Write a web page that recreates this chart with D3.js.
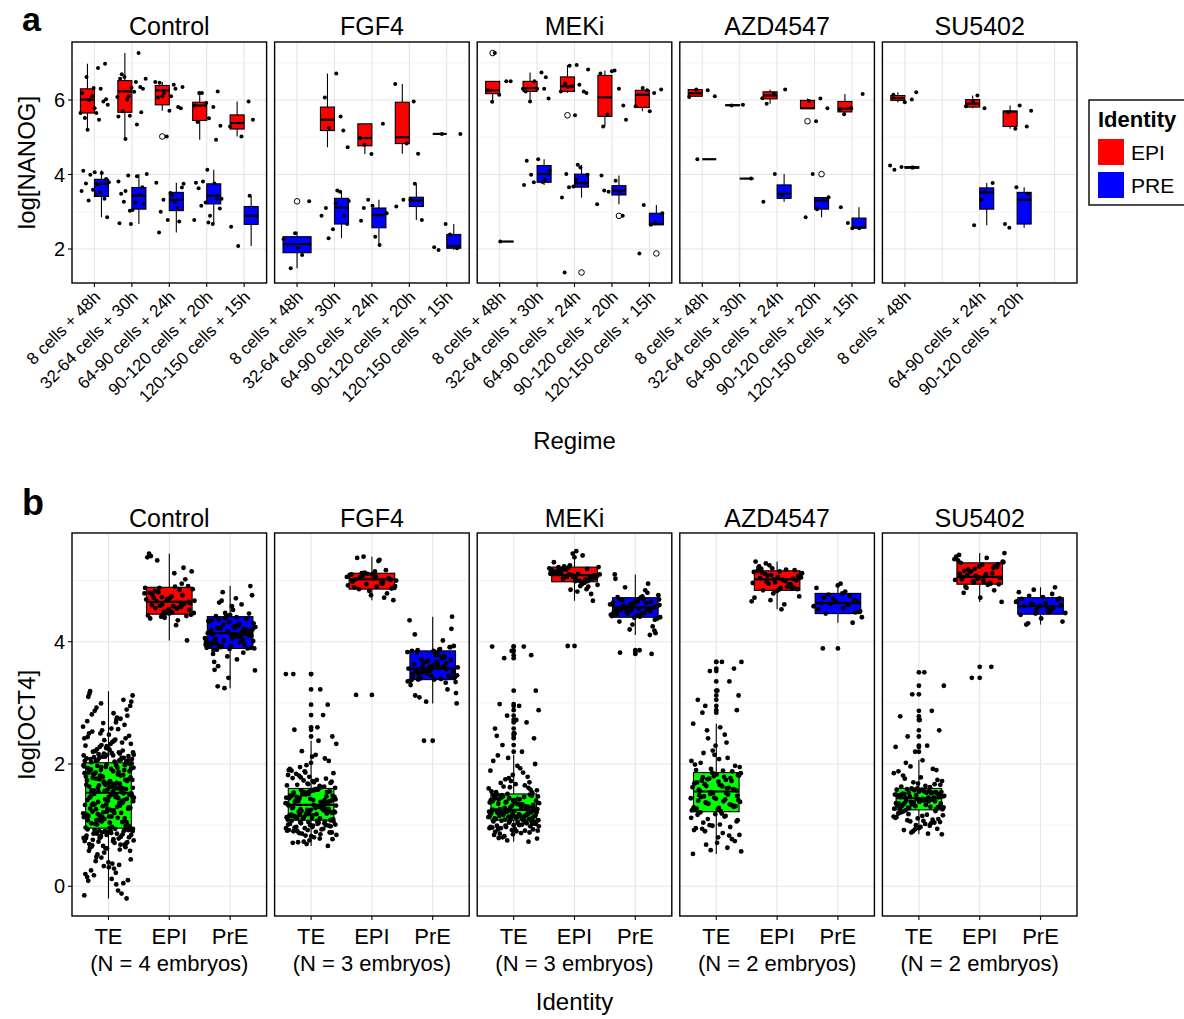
<!DOCTYPE html>
<html>
<head>
<meta charset="utf-8">
<script src="https://cdn.jsdelivr.net/npm/d3@7"></script>
<style>
  body { margin: 0; background: #fff; }
  svg { display: block; }
  text { font-family: "Liberation Sans", Arial, Helvetica, sans-serif; fill: #000; }
</style>
</head>
<body>
<svg id="chart" width="1184" height="1019"></svg>
<script>
// ---------- categories ----------
const treatments = ["Control", "FGF4", "MEKi", "AZD4547", "SU5402"];
const regimes = ["8 cells + 48h", "32-64 cells + 30h", "64-90 cells + 24h", "90-120 cells + 20h", "120-150 cells + 15h"];
const nanogIdentities = ["EPI", "PRE"];
const oct4Identities = ["TE", "EPI", "PrE"];
const embryoCounts = [4, 3, 3, 2, 2];
const nanogTicks = [2, 4, 6];
const nanogMinor = [3, 5, 7];
const oct4Ticks = [0, 2, 4];
const oct4Minor = [1, 3, 5];

// ---------- panel a: NANOG per regime ----------
// [treatment, regime index, identity, lower whisker, q1, median, q3, upper whisker]
const nanogBoxes = [
  ["Control", 0, "EPI", 5.20, 5.65, 6.01, 6.30, 6.97],
  ["Control", 0, "PRE", 2.85, 3.41, 3.75, 3.87, 4.11],
  ["Control", 1, "EPI", 4.95, 5.67, 6.23, 6.52, 7.26],
  ["Control", 1, "PRE", 2.67, 3.07, 3.43, 3.65, 4.01],
  ["Control", 2, "EPI", 5.71, 5.87, 6.26, 6.39, 6.48],
  ["Control", 2, "PRE", 2.44, 3.03, 3.32, 3.52, 3.78],
  ["Control", 3, "EPI", 4.93, 5.45, 5.85, 5.94, 6.23],
  ["Control", 3, "PRE", 2.67, 3.21, 3.43, 3.75, 4.13],
  ["Control", 4, "EPI", 5.02, 5.22, 5.38, 5.60, 5.96],
  ["Control", 4, "PRE", 2.08, 2.66, 2.89, 3.14, 3.43],
  ["FGF4", 0, "PRE", 1.48, 1.90, 2.13, 2.33, 2.47],
  ["FGF4", 1, "EPI", 4.73, 5.18, 5.47, 5.81, 6.71],
  ["FGF4", 1, "PRE", 2.29, 2.67, 3.11, 3.36, 3.57],
  ["FGF4", 2, "EPI", 4.55, 4.77, 4.98, 5.36, 5.36],
  ["FGF4", 2, "PRE", 2.11, 2.57, 2.91, 3.10, 3.32],
  ["FGF4", 3, "EPI", 4.56, 4.83, 5.00, 5.94, 6.43],
  ["FGF4", 3, "PRE", 2.78, 3.14, 3.30, 3.39, 3.75],
  ["FGF4", 4, "EPI", 5.09, 5.09, 5.09, 5.09, 5.09],
  ["FGF4", 4, "PRE", 1.97, 2.02, 2.08, 2.39, 2.67],
  ["MEKi", 0, "EPI", 5.95, 6.17, 6.26, 6.50, 6.50],
  ["MEKi", 0, "PRE", 2.20, 2.20, 2.20, 2.20, 2.20],
  ["MEKi", 1, "EPI", 5.96, 6.23, 6.32, 6.50, 6.74],
  ["MEKi", 1, "PRE", 3.72, 3.79, 4.01, 4.24, 4.41],
  ["MEKi", 2, "EPI", 6.19, 6.23, 6.37, 6.62, 6.94],
  ["MEKi", 2, "PRE", 3.38, 3.66, 3.77, 4.01, 4.26],
  ["MEKi", 3, "EPI", 5.29, 5.56, 6.07, 6.66, 6.79],
  ["MEKi", 3, "PRE", 3.20, 3.45, 3.57, 3.70, 3.97],
  ["MEKi", 4, "EPI", 5.70, 5.80, 6.14, 6.26, 6.32],
  ["MEKi", 4, "PRE", 2.65, 2.65, 2.67, 2.96, 3.18],
  ["AZD4547", 0, "EPI", 6.08, 6.10, 6.18, 6.28, 6.28],
  ["AZD4547", 0, "PRE", 4.41, 4.41, 4.41, 4.41, 4.41],
  ["AZD4547", 1, "EPI", 5.85, 5.85, 5.86, 5.87, 5.87],
  ["AZD4547", 1, "PRE", 3.89, 3.89, 3.89, 3.89, 3.89],
  ["AZD4547", 2, "EPI", 5.90, 6.03, 6.12, 6.22, 6.28],
  ["AZD4547", 2, "PRE", 3.27, 3.36, 3.48, 3.72, 4.01],
  ["AZD4547", 3, "EPI", 5.77, 5.77, 5.78, 5.99, 6.04],
  ["AZD4547", 3, "PRE", 2.85, 3.07, 3.30, 3.38, 3.39],
  ["AZD4547", 4, "EPI", 5.62, 5.68, 5.77, 5.96, 6.16],
  ["AZD4547", 4, "PRE", 2.56, 2.56, 2.58, 2.83, 3.12],
  ["SU5402", 0, "EPI", 5.94, 5.99, 6.05, 6.12, 6.21],
  ["SU5402", 0, "PRE", 4.13, 4.17, 4.19, 4.21, 4.24],
  ["SU5402", 2, "EPI", 5.78, 5.81, 5.90, 6.01, 6.12],
  ["SU5402", 2, "PRE", 2.64, 3.07, 3.52, 3.64, 3.77],
  ["SU5402", 3, "EPI", 5.23, 5.29, 5.69, 5.70, 5.85],
  ["SU5402", 3, "PRE", 2.57, 2.67, 3.32, 3.52, 3.66]
];

// [treatment, regime index, identity, per-embryo log NANOG values]
const nanogValues = [
  ["Control", 0, "EPI", [6.86, 6.62, 6.97, 6.32, 6.19, 6.30, 6.00, 5.87, 5.65, 5.52, 5.96, 6.10, 5.65, 5.47, 5.20, 6.02, 5.78]],
  ["Control", 0, "PRE", [3.88, 4.06, 4.10, 4.04, 3.99, 3.79, 3.74, 3.76, 3.35, 3.59, 3.56, 3.52, 3.30, 2.85, 3.45]],
  ["Control", 1, "EPI", [6.69, 6.35, 6.10, 6.08, 6.48, 6.62, 6.30, 6.33, 6.57, 7.26, 6.01, 6.57, 6.22, 5.70, 5.67, 5.58, 5.56, 5.34, 4.95]],
  ["Control", 1, "PRE", [3.03, 3.81, 3.95, 3.56, 3.21, 3.05, 3.48, 3.45, 3.97, 4.01, 3.24, 3.27, 3.66, 2.67, 2.69]],
  ["Control", 2, "EPI", [6.30, 6.19, 6.35, 6.10, 6.46, 5.81, 5.02, 6.48, 6.41, 6.10, 5.78, 5.71, 6.07]],
  ["Control", 2, "PRE", [3.75, 3.44, 3.00, 2.74, 2.78, 3.78, 3.27, 3.32, 3.65, 3.50, 2.44, 3.10]],
  ["Control", 3, "EPI", [6.19, 6.23, 5.92, 5.85, 5.81, 6.19, 5.31, 5.51, 5.41, 4.93]],
  ["Control", 3, "PRE", [4.13, 3.78, 3.76, 3.81, 3.35, 2.89, 3.63, 3.34, 3.25, 2.78, 2.67, 3.16, 3.09, 2.71]],
  ["Control", 4, "EPI", [5.47, 5.02, 5.29, 5.96]],
  ["Control", 4, "PRE", [2.60, 3.43, 2.08, 2.89]],
  ["FGF4", 0, "PRE", [2.42, 2.26, 1.84, 1.48, 3.28, 2.02]],
  ["FGF4", 1, "EPI", [5.56, 5.25, 4.73, 6.71, 6.07, 5.18]],
  ["FGF4", 1, "PRE", [3.29, 3.57, 3.10, 2.89, 2.53, 2.89, 3.54, 2.29, 2.67, 3.23]],
  ["FGF4", 2, "EPI", [4.80, 5.36, 4.55, 4.98]],
  ["FGF4", 2, "PRE", [3.16, 2.76, 2.11, 3.32, 2.96, 2.33, 3.10]],
  ["FGF4", 3, "EPI", [4.56, 4.83, 6.43, 5.96]],
  ["FGF4", 3, "PRE", [3.14, 3.75, 3.32, 2.78, 3.32]],
  ["FGF4", 4, "EPI", [5.09, 5.09]],
  ["FGF4", 4, "PRE", [2.39, 1.97, 2.02, 2.67, 2.05]],
  ["MEKi", 0, "EPI", [5.95, 6.50, 6.14, 6.26, 6.50, 7.26]],
  ["MEKi", 0, "PRE", [2.20]],
  ["MEKi", 1, "EPI", [6.61, 6.50, 6.30, 6.74, 5.96, 6.04, 6.30, 6.23, 6.30]],
  ["MEKi", 1, "PRE", [3.72, 3.80, 3.99, 4.11, 4.41, 4.37, 3.86, 3.79]],
  ["MEKi", 2, "EPI", [6.92, 6.82, 6.94, 6.44, 6.23, 6.37, 6.23, 6.41, 6.35, 6.19, 5.59]],
  ["MEKi", 2, "PRE", [4.26, 4.01, 3.77, 3.68, 3.38, 4.19, 3.66, 3.99, 3.86, 1.37]],
  ["MEKi", 3, "EPI", [5.85, 6.77, 6.71, 6.30, 5.61, 5.47, 6.79, 5.29]],
  ["MEKi", 3, "PRE", [3.97, 3.54, 3.54, 3.20, 3.83, 3.57, 2.89]],
  ["MEKi", 4, "EPI", [6.26, 5.83, 6.19, 6.32, 6.28, 5.70]],
  ["MEKi", 4, "PRE", [2.69, 3.18, 2.96, 2.65, 1.88]],
  ["AZD4547", 0, "EPI", [6.08, 6.26, 6.28, 6.10]],
  ["AZD4547", 0, "PRE", [4.41]],
  ["AZD4547", 1, "EPI", [5.87, 5.85]],
  ["AZD4547", 1, "PRE", [3.89]],
  ["AZD4547", 2, "EPI", [5.90, 6.28, 6.17, 6.05]],
  ["AZD4547", 2, "PRE", [4.01, 3.27, 3.45]],
  ["AZD4547", 3, "EPI", [6.04, 5.97, 5.78, 5.43]],
  ["AZD4547", 3, "PRE", [3.39, 3.07, 2.85, 3.31, 4.01]],
  ["AZD4547", 4, "EPI", [5.62, 6.16, 5.78, 5.74]],
  ["AZD4547", 4, "PRE", [2.56, 3.12, 2.56, 2.70]],
  ["SU5402", 0, "EPI", [6.21, 5.94, 6.14, 6.01]],
  ["SU5402", 0, "PRE", [4.13, 4.19, 4.20, 4.24]],
  ["SU5402", 2, "EPI", [6.12, 5.83, 5.78, 5.95]],
  ["SU5402", 2, "PRE", [3.52, 2.64, 3.77, 3.32]],
  ["SU5402", 3, "EPI", [5.71, 5.85, 5.67, 5.29, 5.23]],
  ["SU5402", 3, "PRE", [2.57, 3.48, 3.66, 2.67]]
];

// ---------- panel b: OCT4 per lineage ----------
// [treatment, identity, lower whisker, q1, median, q3, upper whisker]
const oct4Boxes = [
  ["Control", "TE", -0.20, 0.95, 1.53, 2.02, 3.19],
  ["Control", "EPI", 4.02, 4.45, 4.65, 4.89, 5.44],
  ["Control", "PrE", 3.24, 3.89, 4.14, 4.41, 4.91],
  ["FGF4", "TE", 0.66, 1.08, 1.33, 1.60, 2.38],
  ["FGF4", "EPI", 4.68, 4.86, 5.02, 5.12, 5.39],
  ["FGF4", "PrE", 2.99, 3.38, 3.56, 3.85, 4.41],
  ["MEKi", "TE", 0.73, 1.08, 1.25, 1.51, 2.15],
  ["MEKi", "EPI", 4.67, 4.98, 5.09, 5.22, 5.48],
  ["MEKi", "PrE", 4.11, 4.40, 4.56, 4.72, 5.10],
  ["AZD4547", "TE", 0.53, 1.22, 1.55, 1.86, 2.66],
  ["AZD4547", "EPI", 4.53, 4.84, 5.02, 5.16, 5.31],
  ["AZD4547", "PrE", 4.31, 4.46, 4.63, 4.79, 4.95],
  ["SU5402", "TE", 0.85, 1.25, 1.44, 1.60, 2.07],
  ["SU5402", "EPI", 4.65, 4.94, 5.06, 5.29, 5.45],
  ["SU5402", "PrE", 4.28, 4.45, 4.58, 4.72, 4.89]
];

const oct4ControlTE = [0.71, 0.88, -0.20, 0.62, 0.93, 0.35, 0.79, 0.84, 0.12, 0.67, 0.90, 0.55, 0.74, 0.03, 0.86, 0.92, 0.31, 0.69, 0.81, 0.47, 0.94, 0.77, 0.18, 0.64, 0.89, 0.83, -0.07, 0.73, 0.58, 0.91, 0.26, 0.85, 0.66, 0.79, 0.94, 0.41, 0.72, 0.87, 0.09, 0.60, 0.82, 0.93, 0.37, 0.76, 0.68, 0.90, 0.20, 0.86, 0.52, 0.80, 0.95, 0.63, -0.12, 0.88, 0.75, 0.29, 0.92, 0.70, 0.84, 0.15, 0.78, 0.91, 0.44, 0.87, 0.65,
  0.05, 0.33, -0.15, 0.22, 0.48, 0.10, 0.39, 0.58, 0.68, 0.81, 0.90, 0.74, 0.86, 0.93, 0.62, 0.79,
  1.12, 1.38, 0.98, 1.25, 1.47, 1.05, 1.31, 1.19, 1.50, 1.02, 1.43, 1.27, 1.08, 1.36, 1.16, 1.52, 0.97, 1.22, 1.41, 1.10, 1.33, 1.48, 1.01, 1.29, 1.14, 1.45, 1.20, 1.06, 1.39, 1.24, 1.51, 0.99, 1.34, 1.17, 1.44, 1.09, 1.28, 1.49, 1.03, 1.37, 1.21, 1.13, 1.46, 1.26, 1.00, 1.40, 1.15, 1.32, 1.07, 1.48, 1.23, 1.35, 1.11, 1.42, 0.96, 1.30, 1.18, 1.50, 1.04, 1.27, 1.39, 1.13, 1.45, 1.20, 1.34,
  1.05, 1.22, 1.41, 1.60, 1.75, 1.92, 1.14, 1.33, 1.52, 1.69, 1.85, 1.98, 1.08, 1.27, 1.46, 1.63, 1.81, 1.95,
  1.61, 1.88, 1.57, 1.74, 1.95, 1.66, 1.83, 1.55, 2.00, 1.70, 1.91, 1.60, 1.79, 1.98, 1.64, 1.86, 1.72, 1.58, 1.93, 1.68, 1.81, 2.01, 1.63, 1.77, 1.90, 1.56, 1.85, 1.69, 1.97, 1.75, 1.62, 1.89, 1.54, 1.80, 1.94, 1.67, 1.84, 1.59, 1.99, 1.73, 1.87, 1.65, 1.78, 1.92, 1.57, 1.82, 1.71, 1.96, 1.60, 1.76, 2.02, 1.69, 1.86, 1.63, 1.90, 1.74, 1.55, 1.83, 1.98, 1.66, 1.79, 1.94, 1.61, 1.88, 1.72,
  2.08, 2.35, 2.12, 2.61, 2.04, 2.21, 2.89, 2.15, 2.44, 2.06, 2.28, 3.02, 2.18, 2.53, 2.10, 2.39, 2.05, 2.72, 2.24, 2.13, 2.48, 3.15, 2.07, 2.31, 2.19, 2.83, 2.11, 2.42, 2.26, 2.09, 2.57, 2.16, 2.95, 2.33, 2.03, 2.22, 2.67, 2.14, 2.40, 2.05, 2.79, 2.27, 3.10, 2.17, 2.50, 2.08, 2.36, 2.20, 2.64, 2.12, 2.30, 2.76, 2.06, 2.46, 2.23, 3.19, 2.10, 2.55, 2.15, 2.38, 2.87, 2.04, 2.29, 2.70, 2.19,
  2.10, 2.33, 2.58, 2.81, 3.05, 2.17, 2.42, 2.68, 2.92, 2.06, 2.25, 2.50, 2.74, 2.99, 3.12, 2.14];
const oct4ControlEPI = [4.52, 4.71, 4.38, 4.95, 4.61, 4.47, 5.12, 4.83, 4.42, 4.68, 5.38, 4.56, 4.88, 4.44, 4.74, 4.60, 5.21, 4.49, 4.79, 4.27, 4.66, 4.91, 4.53, 5.44, 4.64, 4.41, 4.86, 4.58, 4.72, 5.02, 4.46, 4.69, 4.35, 4.81, 4.63, 4.50, 5.40, 4.76, 4.45, 4.67, 4.90, 4.55, 4.02, 4.70, 4.43, 4.85, 4.59, 5.15, 4.48, 4.77, 4.62, 4.39, 4.88, 4.54, 5.33, 4.65, 4.46, 4.80, 4.57, 4.73];
const oct4ControlPrE = [4.12, 3.95, 4.38, 4.05, 3.71, 4.22, 4.46, 3.88, 4.15, 4.61, 3.93, 4.30, 4.08, 3.54, 4.19, 4.41, 3.99, 4.27, 4.64, 3.90, 4.11, 4.35, 3.82, 4.02, 4.24, 4.71, 3.97, 4.17, 3.41, 4.33, 4.07, 3.91, 4.20, 4.52, 3.86, 4.13, 4.39, 4.00, 4.26, 3.60, 4.09, 4.44, 3.94, 4.16, 4.81, 3.89, 4.23, 4.04, 4.37, 3.76, 4.14, 4.29, 3.92, 4.10, 4.58, 3.98, 4.21, 3.24, 4.06, 4.40, 3.87, 4.18, 4.32, 3.96, 4.12, 4.67, 4.01, 4.25, 3.67, 4.15, 4.43, 3.90, 4.08, 4.36, 4.91, 3.93, 4.19, 4.03, 4.28, 3.53, 4.11, 4.42, 3.89, 4.17, 4.34, 3.99, 4.22, 4.76, 4.05, 3.80, 4.14, 4.47, 3.95, 4.26, 3.27];

const oct4FGF4TE = [0.92, 1.01, 0.78, 1.05, 0.88, 0.97, 0.71, 1.03, 0.95, 0.84, 1.07, 0.90, 0.99, 0.75, 1.02, 0.93, 0.86, 1.06, 0.80, 0.96, 1.00, 0.69, 0.91, 1.04, 0.87, 0.98, 0.82, 1.07, 0.94, 0.73, 1.01, 0.89, 0.97, 0.66, 1.05, 0.92, 0.85, 1.03, 0.77, 0.99, 0.90, 1.06, 0.83, 0.95, 1.02, 0.72, 0.88, 1.00,
  1.15, 1.27, 1.10, 1.22, 1.31, 1.13, 1.19, 1.25, 1.09, 1.30, 1.17, 1.21, 1.12, 1.28, 1.24, 1.14, 1.32, 1.18, 1.11, 1.26, 1.20, 1.16, 1.29, 1.23, 1.10, 1.33, 1.15, 1.27, 1.19, 1.13, 1.30, 1.22, 1.08, 1.25, 1.17, 1.31, 1.12, 1.21, 1.28, 1.14, 1.24, 1.18, 1.32, 1.11, 1.26, 1.20, 1.16, 1.29,
  1.41, 1.52, 1.36, 1.58, 1.45, 1.39, 1.55, 1.48, 1.34, 1.50, 1.43, 1.57, 1.38, 1.47, 1.53, 1.35, 1.60, 1.44, 1.40, 1.56, 1.49, 1.37, 1.54, 1.42, 1.59, 1.46, 1.35, 1.51, 1.44, 1.38, 1.57, 1.48, 1.41, 1.53, 1.36, 1.50, 1.45, 1.58, 1.39, 1.55, 1.43, 1.47, 1.34, 1.52, 1.46, 1.59, 1.40, 1.54,
  1.68, 1.82, 1.64, 1.95, 1.71, 2.12, 1.77, 1.63, 1.88, 2.33, 1.74, 1.66, 2.05, 1.79, 1.92, 1.62, 2.21, 1.85, 1.70, 2.56, 1.76, 1.98, 1.65, 2.38, 1.81, 1.69, 2.02, 1.89, 2.80, 1.73, 1.61, 2.15, 1.84, 2.97, 1.67, 1.90, 3.22, 1.78, 2.45, 1.72, 3.47, 2.09, 1.86, 3.47, 2.60];
const oct4FGF4EPI = [4.95, 5.08, 4.88, 5.15, 5.02, 4.79, 5.11, 4.92, 5.34, 5.05, 4.87, 5.10, 4.98, 4.72, 5.13, 5.00, 4.90, 5.37, 5.04, 4.83, 5.09, 4.96, 5.12, 4.68, 5.03, 4.89, 5.17, 4.94, 5.06, 5.32, 4.86, 5.01, 4.76, 5.10, 4.97, 5.39, 4.91, 5.07, 3.13];
const oct4FGF4PrE = [3.45, 3.62, 3.38, 3.91, 3.52, 3.29, 3.74, 3.58, 3.41, 3.83, 3.12, 3.55, 3.68, 3.35, 3.87, 3.49, 4.21, 3.60, 3.40, 3.77, 3.53, 3.16, 3.66, 3.82, 3.44, 3.57, 4.35, 3.39, 3.71, 3.50, 3.85, 3.63, 3.33, 3.02, 3.58, 3.79, 3.46, 3.91, 3.55, 3.37, 4.02, 3.64, 3.42, 3.80, 3.51, 3.22, 3.69, 3.56, 3.88, 3.40, 4.41, 3.61, 3.47, 3.75, 3.54, 2.99, 3.67, 3.86, 3.43, 3.59, 3.36, 3.73, 3.50, 3.93, 3.38, 4.12, 3.65, 3.48, 3.83, 3.57, 3.09, 3.70, 3.44, 3.85, 3.60, 2.38, 3.34, 3.78, 3.52];

const oct4MEKiTE = [0.95, 1.02, 0.85, 1.06, 0.91, 0.99, 0.78, 1.04, 0.93, 0.88, 1.07, 0.97, 1.01, 0.80, 1.05, 0.94, 0.89, 1.03, 0.75, 0.98, 1.00, 0.86, 1.06, 0.92, 0.96, 1.08, 0.82, 1.02, 0.90, 0.99, 0.73, 1.04, 0.95, 0.87, 1.07, 0.93, 1.00, 0.84, 1.05, 0.97, 0.91, 1.03, 0.79, 0.98,
  1.12, 1.20, 1.09, 1.17, 1.23, 1.14, 1.10, 1.19, 1.24, 1.13, 1.16, 1.22, 1.11, 1.18, 1.25, 1.15, 1.09, 1.21, 1.13, 1.20, 1.10, 1.24, 1.17, 1.12, 1.19, 1.14, 1.23, 1.11, 1.16, 1.22, 1.08, 1.18, 1.15, 1.21, 1.13, 1.25, 1.10, 1.20, 1.16, 1.12, 1.24, 1.18, 1.14, 1.22,
  1.33, 1.45, 1.28, 1.40, 1.49, 1.31, 1.37, 1.26, 1.43, 1.35, 1.50, 1.29, 1.41, 1.34, 1.47, 1.27, 1.38, 1.44, 1.30, 1.51, 1.36, 1.42, 1.26, 1.48, 1.32, 1.39, 1.46, 1.28, 1.40, 1.35, 1.50, 1.30, 1.44, 1.37, 1.27, 1.49, 1.33, 1.41, 1.45, 1.29, 1.38, 1.47, 1.34, 1.42,
  1.58, 1.72, 1.55, 1.86, 1.63, 2.00, 1.67, 1.54, 1.79, 2.10, 1.60, 1.93, 1.69, 1.53, 1.82, 2.05, 1.65, 1.75, 1.57, 1.97, 2.14, 1.70, 1.62, 1.89, 2.20, 2.31, 2.42, 2.50, 2.58, 2.68, 2.79, 2.88, 2.95, 2.98, 3.78, 3.85, 3.92, 3.92, 3.73, 3.20, 2.72, 2.46, 1.61, 1.77];
const oct4MEKiEPI = [5.05, 5.14, 4.99, 5.21, 5.10, 4.91, 5.18, 5.03, 5.44, 5.12, 4.97, 5.20, 5.07, 4.82, 5.16, 5.01, 5.25, 5.11, 4.94, 5.19, 5.08, 5.38, 5.13, 4.86, 5.06, 5.22, 5.00, 5.15, 4.78, 5.09, 5.17, 4.96, 5.23, 5.04, 5.48, 5.12, 4.90, 5.10, 5.20, 4.98, 5.14, 4.67, 5.06, 5.30, 5.02, 5.18, 4.93, 5.11, 5.22, 5.07, 4.85, 5.15, 5.41, 5.03, 5.09, 4.99, 5.13, 5.19, 3.93];
const oct4MEKiPrE = [4.50, 4.62, 4.44, 4.71, 4.57, 4.36, 4.66, 4.52, 4.80, 4.48, 4.60, 4.41, 4.69, 4.55, 4.28, 4.64, 4.47, 4.89, 4.58, 4.43, 4.73, 4.53, 4.20, 4.61, 4.46, 4.68, 4.56, 4.39, 5.10, 4.63, 4.49, 4.76, 4.54, 4.33, 4.65, 4.51, 4.42, 4.70, 4.59, 4.14, 4.67, 4.45, 4.95, 4.57, 4.40, 4.72, 4.52, 4.25, 4.62, 4.48, 4.84, 4.55, 4.38, 4.66, 4.50, 4.11, 4.60, 4.44, 4.74, 4.58, 4.18, 4.64, 5.03, 4.53, 4.46, 4.69, 3.86, 3.82, 3.80, 4.56, 4.61];

const oct4AZDTE = [0.92, 1.15, 0.68, 1.08, 0.80, 1.20, 0.97, 0.59, 1.12, 0.87, 1.04, 0.74, 1.18, 0.95, 0.63, 1.10, 0.84, 1.01, 1.21, 0.77, 0.99, 0.53, 1.14, 0.90, 1.06, 0.71, 1.17, 0.83, 1.00, 0.57, 1.19, 0.94,
  1.30, 1.45, 1.25, 1.52, 1.36, 1.41, 1.28, 1.49, 1.33, 1.54, 1.24, 1.39, 1.47, 1.31, 1.43, 1.27, 1.50, 1.35, 1.38, 1.23, 1.46, 1.32, 1.53, 1.29, 1.42, 1.37, 1.48, 1.26, 1.40, 1.34, 1.51, 1.44,
  1.63, 1.78, 1.58, 1.84, 1.69, 1.60, 1.75, 1.81, 1.66, 1.56, 1.72, 1.86, 1.62, 1.79, 1.67, 1.57, 1.83, 1.70, 1.61, 1.76, 1.85, 1.65, 1.73, 1.59, 1.80, 1.68, 1.74, 1.64, 1.82, 1.71, 1.58, 1.77,
  1.92, 2.05, 1.89, 2.18, 1.97, 2.30, 1.90, 2.10, 2.42, 1.95, 2.60, 2.02, 1.88, 2.22, 2.66, 2.48, 2.95, 2.88, 3.20, 3.05, 3.35, 3.52, 3.67, 3.67, 2.84, 3.56, 2.15, 1.99, 2.35, 2.55, 3.12, 2.08];
const oct4AZDEPI = [4.95, 5.10, 4.88, 5.19, 5.03, 4.79, 5.14, 4.99, 5.28, 4.86, 5.06, 5.21, 4.92, 4.68, 5.12, 5.01, 4.84, 5.17, 4.97, 5.31, 4.90, 5.08, 4.74, 5.15, 5.04, 4.87, 5.20, 4.96, 4.61, 5.11, 5.00, 4.83, 5.16, 4.93, 5.25, 5.05, 4.53, 5.13, 4.89, 5.02, 4.72, 5.18, 4.98, 5.07, 4.85, 5.23, 4.94, 5.09, 4.66, 5.01];
const oct4AZDPrE = [4.55, 4.72, 4.48, 4.66, 4.88, 4.60, 4.77, 4.50, 4.95, 4.63, 4.31, 4.70, 4.58, 4.82, 4.46, 4.65, 4.92, 4.53, 4.75, 4.62, 4.40, 4.79, 3.89, 4.68];

const oct4SUTE = [1.10, 0.95, 1.20, 1.03, 0.88, 1.16, 1.07, 0.92, 1.23, 1.00, 1.13, 0.86, 1.18, 1.05, 0.97, 1.21, 1.09, 0.90, 1.14, 1.02, 1.24, 0.94, 1.11, 1.19, 0.99, 1.06, 0.85, 1.15, 1.22, 1.04, 0.93, 1.12, 1.17, 1.08,
  1.30, 1.38, 1.27, 1.42, 1.34, 1.29, 1.40, 1.36, 1.26, 1.43, 1.32, 1.39, 1.28, 1.35, 1.41, 1.31, 1.44, 1.37, 1.27, 1.33, 1.40, 1.29, 1.42, 1.35, 1.30, 1.38, 1.26, 1.43, 1.34, 1.39, 1.31, 1.36, 1.41, 1.28,
  1.50, 1.57, 1.46, 1.53, 1.59, 1.48, 1.55, 1.45, 1.52, 1.60, 1.49, 1.56, 1.47, 1.54, 1.58, 1.51, 1.45, 1.57, 1.50, 1.53, 1.59, 1.46, 1.55, 1.48, 1.52, 1.60, 1.47, 1.56, 1.51, 1.54, 1.49, 1.58, 1.45, 1.53,
  1.66, 1.78, 1.63, 1.92, 1.70, 1.85, 1.64, 2.02, 1.74, 1.68, 1.88, 1.62, 1.96, 1.72, 2.06, 1.81, 1.67, 2.20, 2.28, 2.30, 2.45, 2.55, 2.72, 2.78, 2.87, 3.14, 3.28, 3.50, 1.76, 1.90];
const oct4SUEPI = [5.02, 5.21, 4.97, 5.35, 5.10, 4.88, 5.27, 5.05, 5.42, 4.95, 5.15, 5.31, 5.00, 4.80, 5.24, 5.08, 5.39, 4.93, 5.18, 5.04, 4.72, 5.29, 5.12, 4.99, 5.45, 5.07, 4.90, 5.22, 5.03, 5.33, 4.96, 5.14, 4.65, 5.26, 5.06, 4.84, 5.19, 5.01, 5.37, 5.09, 4.94, 5.23, 5.11, 3.59, 3.41, 5.30, 4.98, 5.16];
const oct4SUPrE = [4.52, 4.66, 4.48, 4.75, 4.60, 4.38, 4.70, 4.55, 4.85, 4.47, 4.63, 4.28, 4.69, 4.57, 4.81, 4.50, 4.62, 4.33, 4.73, 4.58, 4.89, 4.46, 4.65, 4.54, 4.30, 4.71, 4.59, 4.44, 4.78, 4.61];

const oct4Values = [
  ["Control", "TE", oct4ControlTE], ["Control", "EPI", oct4ControlEPI], ["Control", "PrE", oct4ControlPrE],
  ["FGF4", "TE", oct4FGF4TE], ["FGF4", "EPI", oct4FGF4EPI], ["FGF4", "PrE", oct4FGF4PrE],
  ["MEKi", "TE", oct4MEKiTE], ["MEKi", "EPI", oct4MEKiEPI], ["MEKi", "PrE", oct4MEKiPrE],
  ["AZD4547", "TE", oct4AZDTE], ["AZD4547", "EPI", oct4AZDEPI], ["AZD4547", "PrE", oct4AZDPrE],
  ["SU5402", "TE", oct4SUTE], ["SU5402", "EPI", oct4SUEPI], ["SU5402", "PrE", oct4SUPrE]
];

// ---------- drawing ----------
const W = 1184, H = 1019;
const svg = d3.select("#chart");
svg.append("rect").attr("width", W).attr("height", H).attr("fill", "#fff");

const fillOf = { EPI: "#ff0000", PRE: "#0000ff", PrE: "#0000ff", TE: "#00ff00" };
const facetLeft = 72, facetRight = 1077, facetGap = 8;
const facetW = (facetRight - facetLeft - facetGap * (treatments.length - 1)) / treatments.length;
const facetX = i => facetLeft + i * (facetW + facetGap);

// even spread of points across the jitter band (golden-ratio sequence)
const jitter = (i, seed) => (((i + 1) * 0.6180339887 + seed * 0.2718281828) % 1) - 0.5;

function drawBox(g, cx, w, y, s, fill) {
  const [lo, q1, med, q3, hi] = s;
  g.append("line").attr("x1", cx).attr("x2", cx).attr("y1", y(hi)).attr("y2", y(q3))
    .attr("stroke", "#000").attr("stroke-width", 1.1);
  g.append("line").attr("x1", cx).attr("x2", cx).attr("y1", y(q1)).attr("y2", y(lo))
    .attr("stroke", "#000").attr("stroke-width", 1.1);
  g.append("rect").attr("x", cx - w / 2).attr("y", y(q3)).attr("width", w)
    .attr("height", Math.max(0, y(q1) - y(q3)))
    .attr("fill", fill).attr("stroke", "#000").attr("stroke-width", 1.1);
  g.append("line").attr("x1", cx - w / 2).attr("x2", cx + w / 2).attr("y1", y(med)).attr("y2", y(med))
    .attr("stroke", "#000").attr("stroke-width", 2.2);
}

function drawGrid(g, x0, x1, y, majors, minors, xs) {
  minors.forEach(v => {
    g.append("line").attr("x1", x0).attr("x2", x1).attr("y1", y(v)).attr("y2", y(v))
      .attr("stroke", "#f2f2f2").attr("stroke-width", 0.8);
  });
  majors.forEach(v => {
    g.append("line").attr("x1", x0).attr("x2", x1).attr("y1", y(v)).attr("y2", y(v))
      .attr("stroke", "#e6e6e6").attr("stroke-width", 1.1);
  });
  const [yb, yt] = y.range();
  xs.forEach(v => {
    g.append("line").attr("x1", v).attr("x2", v).attr("y1", yt).attr("y2", yb)
      .attr("stroke", "#e6e6e6").attr("stroke-width", 1.1);
  });
}

function drawYAxis(y, ticks, x0) {
  const g = svg.append("g");
  ticks.forEach(v => {
    g.append("line").attr("x1", x0 - 4).attr("x2", x0).attr("y1", y(v)).attr("y2", y(v))
      .attr("stroke", "#000").attr("stroke-width", 1.1);
    g.append("text").attr("x", x0 - 7).attr("y", y(v)).attr("dy", "0.36em")
      .attr("text-anchor", "end").attr("font-size", 20).text(v);
  });
}

// ---- panel a ----
const yA = d3.scaleLinear().domain([1.087, 7.557]).range([283, 42]);
treatments.forEach((t, ti) => {
  const x0 = facetX(ti), x1 = x0 + facetW;
  const xA = d3.scalePoint().domain(d3.range(regimes.length)).range([x0, x1]).padding(0.6);
  const step = xA.step();
  const g = svg.append("g");
  drawGrid(g, x0, x1, yA, nanogTicks, nanogMinor, regimes.map((r, i) => xA(i)));

  const boxes = nanogBoxes.filter(b => b[0] === t);
  const centreOf = (ri, id) => {
    const present = nanogIdentities.filter(k => boxes.some(b => b[1] === ri && b[2] === k));
    if (present.length < 2) return { cx: xA(ri), w: 0.75 * step };
    const k = present.indexOf(id);
    return { cx: xA(ri) + (k === 0 ? -1 : 1) * 0.1875 * step, w: 0.375 * step };
  };
  boxes.forEach(b => {
    const { cx, w } = centreOf(b[1], b[2]);
    drawBox(g, cx, w, yA, b.slice(3), fillOf[b[2]]);
  });
  // outliers: values beyond the whiskers, open circles on the box centre
  nanogValues.filter(v => v[0] === t).forEach(v => {
    const b = boxes.find(bb => bb[1] === v[1] && bb[2] === v[2]);
    const { cx } = centreOf(v[1], v[2]);
    v[3].filter(val => val < b[3] - 0.005 || val > b[7] + 0.005).forEach(val => {
      g.append("circle").attr("cx", cx).attr("cy", yA(val)).attr("r", 2.8)
        .attr("fill", "#fff").attr("stroke", "#000").attr("stroke-width", 1);
    });
  });
  // jittered cells
  nanogValues.filter(v => v[0] === t).forEach((v, gi) => {
    v[3].forEach((val, i) => {
      g.append("circle").attr("cx", xA(v[1]) + jitter(i, gi + ti * 3) * 0.8 * step)
        .attr("cy", yA(val)).attr("r", 2).attr("fill", "#000");
    });
  });
  g.append("rect").attr("x", x0).attr("y", 42).attr("width", facetW).attr("height", 283 - 42)
    .attr("fill", "none").attr("stroke", "#000").attr("stroke-width", 1.4);

  // x axis: only regimes with cells in this treatment get a tick and label
  regimes.forEach((r, ri) => {
    if (!boxes.some(b => b[1] === ri)) return;
    g.append("line").attr("x1", xA(ri)).attr("x2", xA(ri)).attr("y1", 283).attr("y2", 287)
      .attr("stroke", "#000").attr("stroke-width", 1.1);
    g.append("text").attr("transform", `translate(${xA(ri) + 7},${298}) rotate(-45)`)
      .attr("text-anchor", "end").attr("font-size", 17).text(r);
  });
  svg.append("text").attr("x", x0 + facetW / 2).attr("y", 35).attr("text-anchor", "middle")
    .attr("font-size", 25).text(t);
});
drawYAxis(yA, nanogTicks, facetLeft);
svg.append("text").attr("transform", `translate(35,${(42 + 283) / 2}) rotate(-90)`)
  .attr("text-anchor", "middle").attr("font-size", 24).text("log[NANOG]");
svg.append("text").attr("x", (facetLeft + facetRight) / 2).attr("y", 449).attr("text-anchor", "middle")
  .attr("font-size", 24).text("Regime");
svg.append("text").attr("x", 22).attr("y", 31).attr("font-size", 34).attr("font-weight", "bold").text("a");

// legend
const lg = svg.append("g");
lg.append("rect").attr("x", 1089).attr("y", 100).attr("width", 110).attr("height", 105)
  .attr("fill", "#fff").attr("stroke", "#000").attr("stroke-width", 1.4);
lg.append("text").attr("x", 1098).attr("y", 127).attr("font-size", 22).attr("font-weight", "bold").text("Identity");
nanogIdentities.forEach((id, i) => {
  lg.append("rect").attr("x", 1098).attr("y", 139 + i * 33).attr("width", 26).attr("height", 26).attr("fill", fillOf[id]);
  lg.append("text").attr("x", 1131).attr("y", 152 + i * 33).attr("dy", "0.36em").attr("font-size", 21).text(id);
});

// ---- panel b ----
const yB = d3.scaleLinear().domain([-0.486, 5.778]).range([916, 533]);
treatments.forEach((t, ti) => {
  const x0 = facetX(ti), x1 = x0 + facetW;
  const xB = d3.scalePoint().domain(oct4Identities).range([x0, x1]).padding(0.6);
  const step = xB.step();
  const g = svg.append("g");
  drawGrid(g, x0, x1, yB, oct4Ticks, oct4Minor, oct4Identities.map(k => xB(k)));
  oct4Boxes.filter(b => b[0] === t).forEach(b => {
    drawBox(g, xB(b[1]), 0.75 * step, yB, b.slice(2), fillOf[b[1]]);
  });
  oct4Values.filter(v => v[0] === t).forEach((v, gi) => {
    const b = oct4Boxes.find(bb => bb[0] === t && bb[1] === v[1]);
    // outliers drawn on the box centre
    v[2].filter(val => val < b[2] - 0.005 || val > b[6] + 0.005).forEach(val => {
      g.append("circle").attr("cx", xB(v[1])).attr("cy", yB(val)).attr("r", 2.4).attr("fill", "#000");
    });
    v[2].forEach((val, i) => {
      g.append("circle").attr("cx", xB(v[1]) + jitter(i, gi + ti * 3) * 0.84 * step)
        .attr("cy", yB(val)).attr("r", 2.4).attr("fill", "#000");
    });
  });
  g.append("rect").attr("x", x0).attr("y", 533).attr("width", facetW).attr("height", 916 - 533)
    .attr("fill", "none").attr("stroke", "#000").attr("stroke-width", 1.4);
  oct4Identities.forEach(k => {
    g.append("line").attr("x1", xB(k)).attr("x2", xB(k)).attr("y1", 916).attr("y2", 920)
      .attr("stroke", "#000").attr("stroke-width", 1.1);
    g.append("text").attr("x", xB(k)).attr("y", 944).attr("text-anchor", "middle")
      .attr("font-size", 22).text(k);
  });
  g.append("text").attr("x", xB("EPI")).attr("y", 971).attr("text-anchor", "middle")
    .attr("font-size", 22).text(`(N = ${embryoCounts[ti]} embryos)`);
  svg.append("text").attr("x", x0 + facetW / 2).attr("y", 527).attr("text-anchor", "middle")
    .attr("font-size", 25).text(t);
});
drawYAxis(yB, oct4Ticks, facetLeft);
svg.append("text").attr("transform", `translate(35,${(533 + 916) / 2}) rotate(-90)`)
  .attr("text-anchor", "middle").attr("font-size", 24).text("log[OCT4]");
svg.append("text").attr("x", (facetLeft + facetRight) / 2).attr("y", 1010).attr("text-anchor", "middle")
  .attr("font-size", 24).text("Identity");
svg.append("text").attr("x", 22).attr("y", 515).attr("font-size", 36).attr("font-weight", "bold").text("b");
</script>
</body>
</html>
